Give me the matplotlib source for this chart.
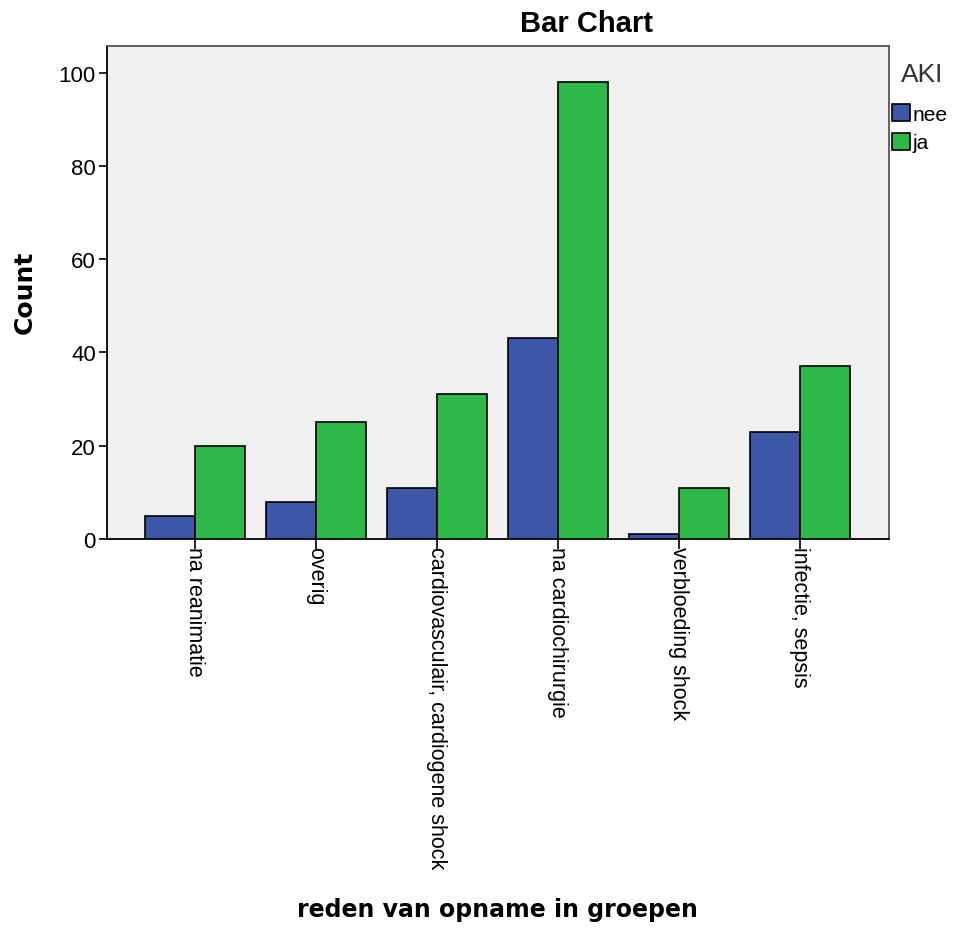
import matplotlib.pyplot as plt
import numpy as np

plt.rcParams['font.family'] = ['Liberation Sans', 'DejaVu Sans']

categories = ["na reanimatie", "overig", "cardiovasculair, cardiogene shock",
              "na cardiochirurgie", "verbloeding shock", "infectie, sepsis"]
nee = [5, 8, 11, 43, 1, 23]
ja = [20, 25, 31, 98, 11, 37]

x = np.arange(len(categories))
w = 0.413

fig = plt.figure(figsize=(9.56, 9.29), dpi=100)
ax = fig.add_axes([107/956, 1 - 540/929, 782/956, 493/929])
ax.set_facecolor('#f0f0f0')

ax.bar(x - w/2, nee, w, color='#3d56a8', edgecolor='black', lw=1.2, label='nee', zorder=3)
ax.bar(x + w/2, ja, w, color='#2eb84a', edgecolor='black', lw=1.2, label='ja', zorder=3)

ax.set_xlim(-0.727, 5.737)
ax.set_ylim(0, 105.7)
ax.set_yticks([0, 20, 40, 60, 80, 100])
ax.set_xticks(x)
ax.set_xticklabels(categories, rotation=270, ha='center', va='top', fontsize=15.5)
ax.tick_params(axis='y', labelsize=16, length=6, width=1.2, direction='out', pad=2)
ax.tick_params(axis='x', length=7, width=1.2, direction='out', pad=-2)

for s in ['left', 'bottom']:
    ax.spines[s].set_color('black')
    ax.spines[s].set_linewidth(1.3)
for s in ['top', 'right']:
    ax.spines[s].set_color('#555555')
    ax.spines[s].set_linewidth(1.3)

fig.text(587/956, 1 - 24/929, 'Bar Chart', fontsize=21, fontweight='bold',
         ha='center', va='center')
fig.text(25/956, 1 - 292/929, 'Count', family='DejaVu Sans', fontsize=18,
         fontweight='bold', ha='center', va='center', rotation=90)
fig.text(497/956, 1 - 910/929, 'reden van opname in groepen', family='DejaVu Sans',
         fontsize=17, fontweight='bold', ha='center', va='center')

# legend title placed separately to get the wider gap above the entries
fig.text(922/956, 1 - 75/929, 'AKI', fontsize=19, color='#333333',
         ha='center', va='center')
leg = fig.legend(loc='upper left', bbox_to_anchor=(892/956, 1 - 105/929),
                 frameon=False, fontsize=15, handlelength=0.85,
                 handleheight=0.85, handletextpad=0.12, labelspacing=0.45,
                 borderpad=0, borderaxespad=0)
for h in leg.legend_handles:
    h.set_edgecolor('black')

fig.savefig('out.png', dpi=100)
